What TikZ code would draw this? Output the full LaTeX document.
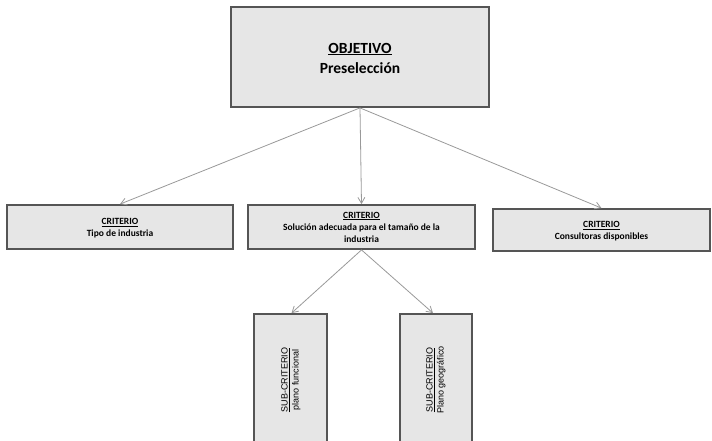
\documentclass[tikz,border=0pt]{standalone}
\usepackage{fontspec}
\setmainfont{Carlito}
\newfontfamily\subfont{Liberation Sans}
\usetikzlibrary{arrows.meta}
\definecolor{boxfill}{HTML}{E6E6E6}
\definecolor{boxline}{HTML}{555555}
\definecolor{linkline}{HTML}{999999}
\begin{document}
\begin{tikzpicture}[x=1pt,y=-1pt,
  card/.style={draw=boxline, line width=1.8pt, fill=boxfill, inner sep=0pt},
  link/.style={draw=linkline, line width=0.8pt, -{Straight Barb[length=6pt,width=7pt]}},
  crit/.style={font=\bfseries\fontsize{9.5}{12}\selectfont, align=center, inner sep=0pt},
  subtxt/.style={font=\subfont\fontsize{9}{11}\selectfont, align=center, rotate=90, inner sep=0pt}]
\useasboundingbox (0,0) rectangle (712,440);
\begin{scope}
\clip (0,0) rectangle (712,440);
% goal
\node[card, minimum width=258pt, minimum height=100pt] (obj) at (360,57) {};
\node[font=\bfseries\fontsize{15.5}{20}\selectfont, align=center] (objt) at (360,58)
  {\underline{OBJETIVO}\\Preselección};
% criteria
\node[card, minimum width=226pt, minimum height=44pt] (c1) at (120,227) {};
\node[crit] (c1t) at (120,228) {\underline{CRITERIO}\\Tipo de industria};
\node[card, minimum width=227pt, minimum height=44pt] (c2) at (361.5,227) {};
\node[crit] (c2t) at (361.5,227) {\underline{CRITERIO}\\Solución adecuada para el tamaño de la\\industria};
\node[card, minimum width=217pt, minimum height=42pt] (c3) at (601.5,230) {};
\node[crit] (c3t) at (601.5,231) {\underline{CRITERIO}\\Consultoras disponibles};
% sub-criteria
\node[card, minimum width=73pt, minimum height=160pt] (s1) at (290.5,394) {};
\node[subtxt] (s1t) at (291,380) {\underline{SUB-CRITERIO}\\plano funcional};
\node[card, minimum width=72pt, minimum height=160pt] (s2) at (436,394) {};
\node[subtxt] (s2t) at (436,380) {\underline{SUB-CRITERIO}\\Plano geográfico};
\end{scope}
% connectors
\coordinate (ob) at (obj.south);
\coordinate (cb) at (c2.south);
\draw[link] (ob) -- (c1.north);
\draw[link] (ob) -- (c2.north);
\draw[link] (ob) -- (c3.north);
\draw[link] (cb) -- ([xshift=1pt]s1.north);
\draw[link] (cb) -- ([xshift=-3pt]s2.north);
\end{tikzpicture}
\end{document}
